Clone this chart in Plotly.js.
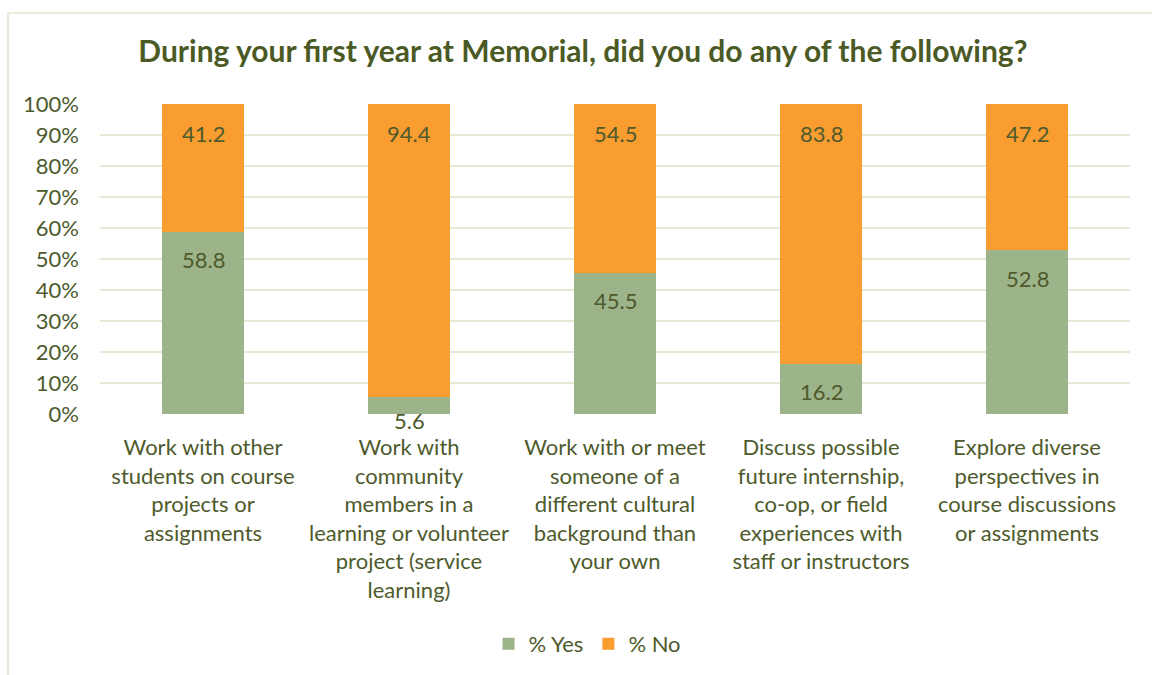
<!DOCTYPE html>
<html>
<head>
<meta charset="utf-8">
<script src="https://cdn.plot.ly/plotly-3.0.1.min.js"></script>
<style>
  html, body { margin:0; padding:0; background:#fff; }
  #wrap { position:relative; width:1152px; height:675px; overflow:hidden; }
  #chart { width:1152px; height:675px; }
  #frame { position:absolute; left:7px; top:12px; width:1170px; height:700px; border:2px solid #e8ebda; pointer-events:none; box-sizing:border-box; }
</style>
</head>
<body>
<div id="wrap">
<div id="chart"></div>
<div id="frame"></div>
</div>
<script>
const categories = [
  "Work with other<br>students on course<br>projects or<br>assignments",
  "Work with<br>community<br>members in a<br>learning or volunteer<br>project (service<br>learning)",
  "Work with or meet<br>someone of a<br>different cultural<br>background than<br>your own",
  "Discuss possible<br>future internship,<br>co-op, or field<br>experiences with<br>staff or instructors",
  "Explore diverse<br>perspectives in<br>course discussions<br>or assignments"
];
const yesValues = [58.8, 5.6, 45.5, 16.2, 52.8];
const noValues = [41.2, 94.4, 54.5, 83.8, 47.2];
const yTicks = [0,10,20,30,40,50,60,70,80,90,100];

const textColor = '#4e5a2c';
const fontFam = 'Lato, "Liberation Sans", sans-serif';

const traces = [
  { type:'bar', name:'% Yes', x:categories, y:yesValues,
    marker:{color:'#9db389'}, hoverinfo:'y' },
  { type:'bar', name:'% No', x:categories, y:noValues,
    marker:{color:'#f99d31'}, hoverinfo:'y' }
];

const annotations = [];
categories.forEach((c,i)=>{
  const small = yesValues[i] < 10;
  annotations.push({x:c, y:yesValues[i], xref:'x', yref:'y', text:yesValues[i].toFixed(1),
    showarrow:false, yanchor:'middle', yshift: small ? -24 : -28, font:{size:22, color:textColor, family:fontFam}});
  annotations.push({x:c, y:yesValues[i]+noValues[i], xref:'x', yref:'y', text:noValues[i].toFixed(1),
    showarrow:false, yanchor:'middle', yshift:-29, font:{size:22, color:textColor, family:fontFam}});
});

const layout = {
  width:1152, height:675,
  margin:{l:100, r:22, t:104, b:261},
  paper_bgcolor:'rgba(0,0,0,0)', plot_bgcolor:'rgba(0,0,0,0)',
  barmode:'stack', bargap:0.6,
  font:{family:fontFam, color:textColor, size:22},
  title:{text:'<b>During your first year at Memorial, did you do any of the following?</b>',
    x:0.506, xref:'container', xanchor:'center', y:0.923, yref:'container', yanchor:'middle',
    font:{size:30, color:'#4b5a24', family:fontFam}},
  xaxis:{type:'category', showgrid:false, zeroline:false, showline:false,
    tickfont:{size:22, color:textColor}, ticklabelstandoff:18, automargin:false},
  yaxis:{range:[0,100], tickvals:yTicks, ticktext:yTicks.map(v=>v+'%'),
    showgrid:true, gridcolor:'#e6e9d6', gridwidth:2, zeroline:false, showline:false,
    tickfont:{size:22, color:textColor}, ticklabelstandoff:20, automargin:false},
  legend:{orientation:'h', xref:'container', x:0.51, xanchor:'center', yref:'container', y:0.046, yanchor:'middle',
    font:{size:22, color:textColor}, itemwidth:30, traceorder:'normal'},
  annotations:annotations,
  showlegend:true
};

Plotly.newPlot('chart', traces, layout, {displayModeBar:false, staticPlot:true});
</script>
</body>
</html>
